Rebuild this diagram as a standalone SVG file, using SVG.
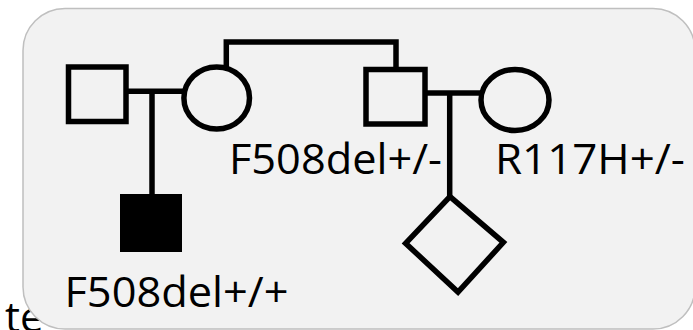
<svg xmlns="http://www.w3.org/2000/svg" width="693" height="330" viewBox="0 0 693 330">
<style>
.bg{fill:#f2f2f2;stroke:#bfbfbf;stroke-width:1.5}
.sym{fill:none;stroke:#000;stroke-width:5.5;stroke-linejoin:miter}
.aff{fill:#000;stroke:none}
.ln{fill:none;stroke:#000;stroke-width:5.5;stroke-linejoin:miter}
.lbl{font-family:"Open Sans","Liberation Sans",sans-serif;font-size:42px;fill:#000}
</style>
<rect width="693" height="330" fill="#ffffff"/>
<text class="lbl" x="5" y="332">te</text>
<rect class="bg" x="23" y="8.5" width="672" height="320.5" rx="42" ry="42"/>
<g id="connectors">
<line class="ln" x1="126" y1="91.3" x2="184" y2="91.3"/>
<line class="ln" x1="152" y1="91.3" x2="152" y2="194"/>
<path class="ln" d="M226.3,68.5 V42 H396 V69.5"/>
<line class="ln" x1="425" y1="93" x2="481" y2="93"/>
<line class="ln" x1="449.7" y1="93" x2="449.7" y2="197"/>
</g>
<g id="father1"><rect class="sym" x="68.5" y="67" width="57.5" height="54.5"/></g>
<g id="mother1"><ellipse class="sym" cx="216.7" cy="98" rx="32.8" ry="31"/>
<text class="lbl" x="229" y="174" textLength="213" lengthAdjust="spacingAndGlyphs">F508del+/-</text></g>
<g id="son"><rect class="aff" x="120" y="194" width="62" height="58"/>
<text class="lbl" x="64.5" y="307" textLength="224" lengthAdjust="spacingAndGlyphs">F508del+/+</text></g>
<g id="father2"><rect class="sym" x="366" y="69.5" width="59" height="54.5"/></g>
<g id="mother2"><ellipse class="sym" cx="515" cy="100" rx="34" ry="30.5"/>
<text class="lbl" x="495" y="174" textLength="190" lengthAdjust="spacingAndGlyphs">R117H+/-</text></g>
<g id="fetus"><polygon class="sym" points="450,196.6 503.4,242.3 458,292.1 405.6,243.3"/></g>
</svg>
